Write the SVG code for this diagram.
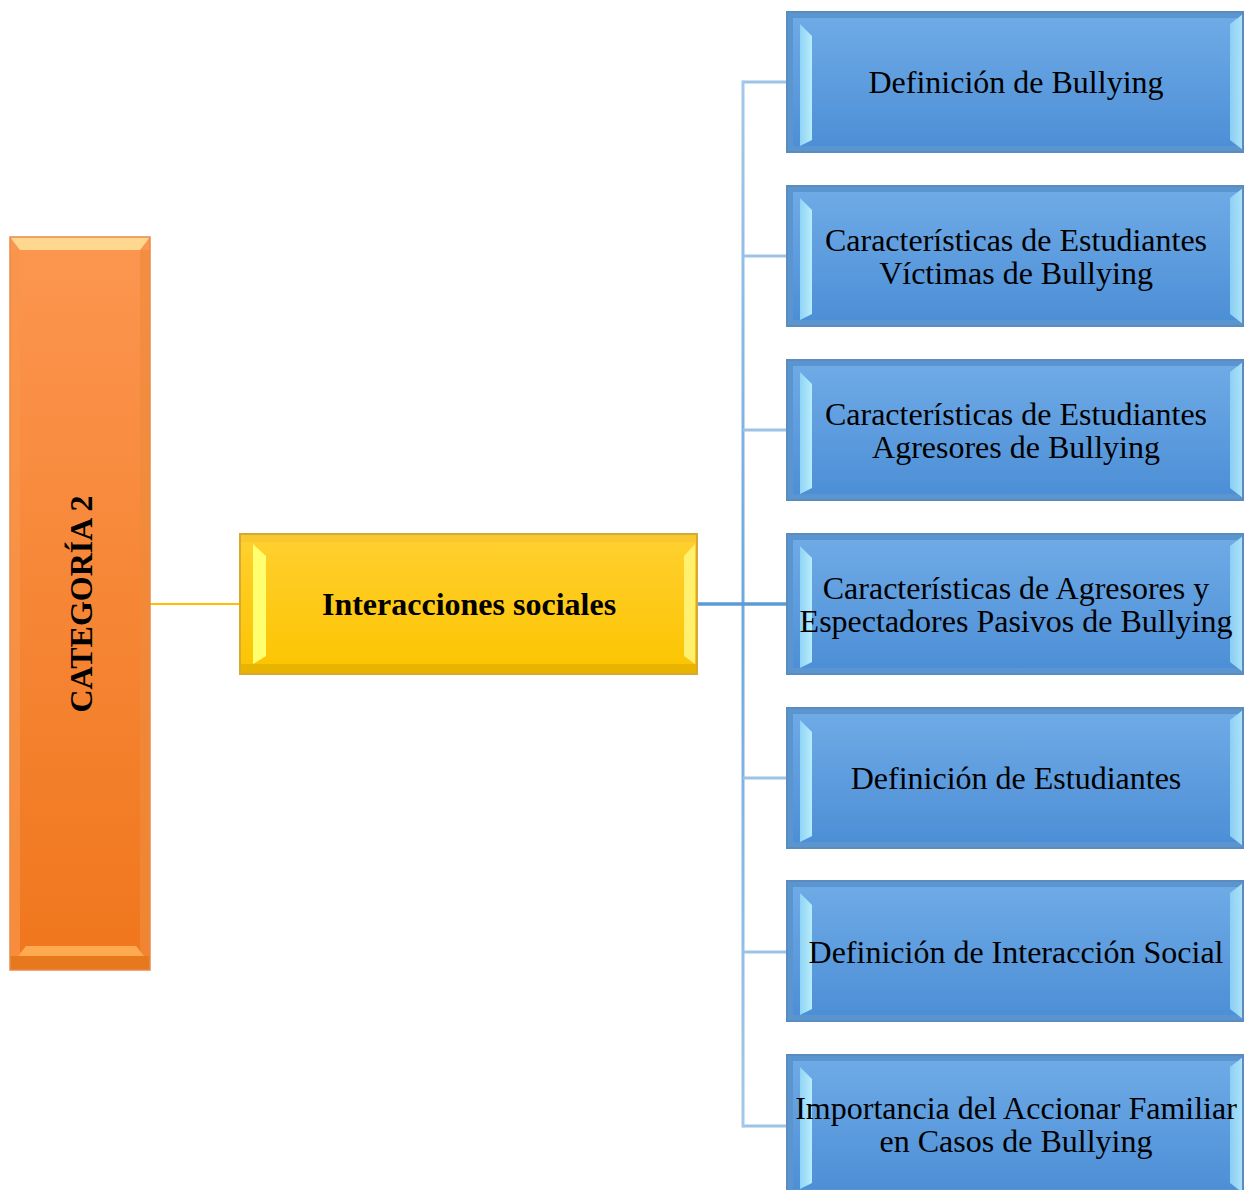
<svg xmlns="http://www.w3.org/2000/svg" width="1244" height="1190" viewBox="0 0 1244 1190">
<style>
.t{font-family:"Liberation Serif","Times New Roman",serif;font-size:32px;fill:#000;text-anchor:middle}
.b{font-weight:bold}
.br{fill:none;stroke:#9dc3e6;stroke-width:3}
</style>
<defs>
<linearGradient id="gb" x1="0" y1="0" x2="0" y2="1"><stop offset="0" stop-color="#6eaae6"/><stop offset="1" stop-color="#4d8fd6"/></linearGradient>
<linearGradient id="go" x1="0" y1="0" x2="0" y2="1"><stop offset="0" stop-color="#fc9650"/><stop offset="1" stop-color="#f0761c"/></linearGradient>
<linearGradient id="gy" x1="0" y1="0" x2="0" y2="1"><stop offset="0" stop-color="#ffd030"/><stop offset="1" stop-color="#fcc400"/></linearGradient>
<linearGradient id="gl" x1="0" y1="0" x2="1" y2="0"><stop offset="0" stop-color="#8fd4f6"/><stop offset="1" stop-color="#b8ecfc"/></linearGradient>
<linearGradient id="gv" gradientUnits="userSpaceOnUse" x1="0" y1="82" x2="0" y2="1126"><stop offset="0" stop-color="#a4c8ea"/><stop offset="0.5" stop-color="#6fa8dc"/><stop offset="1" stop-color="#a4c8ea"/></linearGradient>
<g id="blue">
<rect x="0" y="0" width="456" height="140" fill="#5b95cf"/>
<rect x="6" y="6" width="444" height="128" fill="url(#gb)"/>
<polygon points="13,12 25,24 25,128 13,134" fill="url(#gl)"/>
<polygon points="443,12 456,2 456,138 443,128" fill="url(#gl)" opacity="0.9"/>
<rect x="0" y="0" width="456" height="140" fill="none" stroke="#5a8cc0" stroke-width="2"/>
</g>
</defs>

<g id="connectors">
<line x1="150" y1="604" x2="240" y2="604" stroke="#ffc000" stroke-width="2"/>
<polyline fill="none" stroke="#9dc3e6" stroke-width="3" points="787,82 743,82"/>
<polyline fill="none" stroke="#9dc3e6" stroke-width="3" points="743,1126 787,1126"/>
<line x1="743" y1="80.5" x2="743" y2="1127.5" stroke="url(#gv)" stroke-width="3"/>
<line class="br" x1="743" y1="256" x2="787" y2="256"/>
<line class="br" x1="743" y1="430" x2="787" y2="430"/>
<line class="br" x1="743" y1="778" x2="787" y2="778"/>
<line class="br" x1="743" y1="952" x2="787" y2="952"/>
<line x1="697" y1="604" x2="787" y2="604" stroke="#5b9bd5" stroke-width="3.5"/>
</g>

<g id="categoria">
<rect x="10" y="237" width="140" height="733" fill="url(#go)"/>
<polygon points="10,237 150,237 140,250 20,250" fill="#ffd890"/>
<rect x="10" y="250" width="10" height="707" fill="#f8964a" opacity="0.7"/>
<rect x="140" y="250" width="10" height="707" fill="#f08a3a" opacity="0.7"/>
<polygon points="26,946 136,946 144,956 18,956" fill="#ffaa50"/>
<rect x="10" y="956" width="140" height="14" fill="#e8781e"/>
<rect x="10" y="237" width="140" height="733" fill="none" stroke="#e88a4a" stroke-width="1.5"/>
<text class="t b" transform="translate(92,604) rotate(-90)">CATEGORÍA 2</text>
</g>

<g id="interacciones">
<rect x="240" y="534" width="457" height="140" fill="url(#gy)"/>
<rect x="240" y="534" width="457" height="8" fill="#f8c830"/>
<rect x="240" y="664" width="457" height="10" fill="#e8b400"/>
<polygon points="253,544 266,556 266,656 253,664" fill="#ffff70"/>
<polygon points="684,556 695,544 695,664 684,656" fill="#fff070"/>
<rect x="240" y="534" width="457" height="140" fill="none" stroke="#d8a830" stroke-width="2"/>
<text class="t b" x="469" y="615">Interacciones sociales</text>
</g>

<g id="n1"><use href="#blue" x="787" y="12"/><text class="t" x="1016" y="93">Definición de Bullying</text></g>
<g id="n2"><use href="#blue" x="787" y="186"/><text class="t" x="1016" y="251">Características de Estudiantes</text><text class="t" x="1016" y="284">Víctimas de Bullying</text></g>
<g id="n3"><use href="#blue" x="787" y="360"/><text class="t" x="1016" y="425">Características de Estudiantes</text><text class="t" x="1016" y="458">Agresores de Bullying</text></g>
<g id="n4"><use href="#blue" x="787" y="534"/><text class="t" x="1016" y="599">Características de Agresores y</text><text class="t" x="1016" y="632">Espectadores Pasivos de Bullying</text></g>
<g id="n5"><use href="#blue" x="787" y="708"/><text class="t" x="1016" y="789">Definición de Estudiantes</text></g>
<g id="n6"><use href="#blue" x="787" y="881"/><text class="t" x="1016" y="963">Definición de Interacción Social</text></g>
<g id="n7"><use href="#blue" x="787" y="1055"/><text class="t" x="1016" y="1119">Importancia del Accionar Familiar</text><text class="t" x="1016" y="1152">en Casos de Bullying</text></g>
</svg>
